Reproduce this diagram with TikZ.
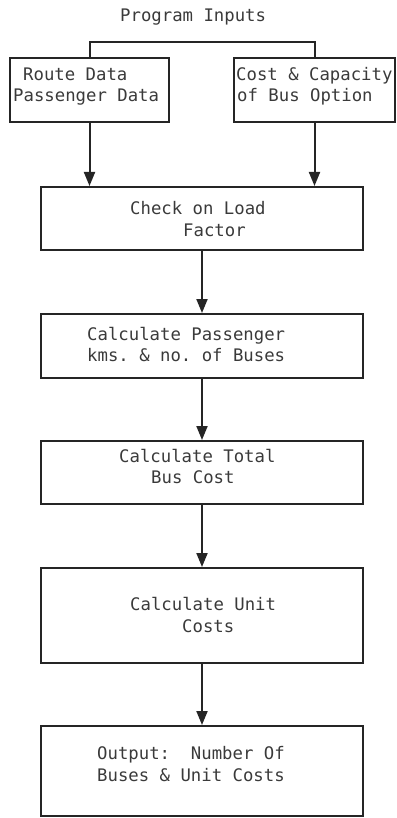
\documentclass[tikz,border=0pt]{standalone}
\usepackage{fontspec}
\setmonofont{DejaVu Sans Mono}
\usetikzlibrary{arrows.meta}
\definecolor{ink}{HTML}{252525}
\definecolor{type}{HTML}{3a3a3a}
\begin{document}
\begin{tikzpicture}[x=1pt,y=-1pt,
  box/.style={draw=ink, line width=2pt, rectangle, inner sep=0pt},
  lbl/.style={anchor=base west, inner sep=0pt, text=type, font=\ttfamily\fontsize{17.3}{20}\selectfont},
  flow/.style={draw=ink, line width=2pt, -{Triangle[length=14pt,width=11pt]}},
  link/.style={draw=ink, line width=2pt}]
\useasboundingbox (0,0) rectangle (396,818);

% boxes
\node[box, minimum width=159pt, minimum height=64pt] (route) at (89.5,90) {};
\node[box, minimum width=161pt, minimum height=64pt] (cost) at (314.5,90) {};
\node[box, minimum width=322pt, minimum height=63pt] (check) at (202,218.5) {};
\node[box, minimum width=322pt, minimum height=64pt] (pkm) at (202,346) {};
\node[box, minimum width=322pt, minimum height=63pt] (total) at (202,472.5) {};
\node[box, minimum width=322pt, minimum height=95pt] (unit) at (202,615.5) {};
\node[box, minimum width=322pt, minimum height=90pt] (output) at (202,771) {};

% texts
\node[lbl] (title) at (120,21.5) {Program Inputs};
\node[lbl] (r1) at (23,80.5) {Route Data};
\node[lbl] (r2) at (13,101.5) {Passenger Data};
\node[lbl] (c1) at (236,80.5) {Cost \& Capacity};
\node[lbl] (c2) at (237,101.5) {of Bus Option};
\node[lbl] (k1) at (130,214.5) {Check on Load};
\node[lbl] (k2) at (183,236.5) {Factor};
\node[lbl] (p1) at (87,340.5) {Calculate Passenger};
\node[lbl] (p2) at (87,361.5) {kms. \& no. of Buses};
\node[lbl] (t1) at (119,462.5) {Calculate Total};
\node[lbl] (t2) at (151,483.5) {Bus Cost};
\node[lbl] (u1) at (130,610.5) {Calculate Unit};
\node[lbl] (u2) at (182,632.5) {Costs};
\node[lbl] (o1) at (97,759.5) {Output:\ \ Number Of};
\node[lbl] (o2) at (97,781.5) {Buses \& Unit Costs};

% input bracket
\coordinate (top) at (89.5,42);
\draw[link] (route.north) -- (top) -| (cost.north);

% flow arrows
\draw[flow] (route.south) -- (route.south |- check.north);
\draw[flow] (cost.south) -- (cost.south |- check.north);
\draw[flow] (check.south) -- (pkm.north);
\draw[flow] (pkm.south) -- (total.north);
\draw[flow] (total.south) -- (unit.north);
\draw[flow] (unit.south) -- (output.north);
\end{tikzpicture}
\end{document}
